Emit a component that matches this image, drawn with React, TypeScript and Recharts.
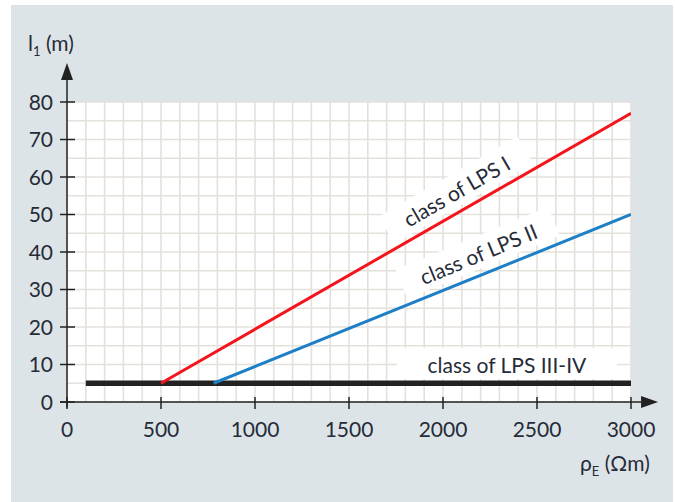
import { LineChart, Line, XAxis, YAxis, CartesianGrid, ReferenceLine, ReferenceDot } from 'recharts'

// earth resistivity rho_E (Ohm m) vs minimum length l1 (m)
const classIRho = [500, 3000]
const classIL1 = [5, 77]
const classIIRho = [780, 3000]
const classIIL1 = [5, 50]
const classIIIRho = [100, 3000]
const classIIIL1 = [5, 5]

const xTicks = [0, 500, 1000, 1500, 2000, 2500, 3000]
const yTicks = [0, 10, 20, 30, 40, 50, 60, 70, 80]

const labelNames = ['class of LPS I', 'class of LPS II', 'class of LPS III-IV']
const labelRho = [2075, 2190, 2340]
const labelL1 = [56, 39.2, 9.6]

const toRows = (rho: number[], l1: number[]) => rho.map((r, i) => ({ rho: r, l1: l1[i] }))

const classI = toRows(classIRho, classIL1)
const classII = toRows(classIIRho, classIIL1)
const classIII = toRows(classIIIRho, classIIIL1)

// minor grid every 100 Ohm m / 5 m
const gridX = Array.from({ length: 31 }, (_, i) => i * 100)
const gridY = Array.from({ length: 17 }, (_, i) => i * 5)

const FONT = 'Lato, sans-serif'
const TEXT = '#262b38'
const AXIS = '#222'
const FS = 21

const XTick = (props: any) => {
  const { x, y, payload } = props
  return (
    <g>
      <line x1={x} y1={y - 5} x2={x} y2={y + 7} stroke={AXIS} strokeWidth={1.5} />
      <text x={x} y={y + 35} textAnchor="middle" fontSize={FS} fontFamily={FONT} fill={TEXT}>
        {payload.value}
      </text>
    </g>
  )
}

const YTick = (props: any) => {
  const { x, y, payload } = props
  return (
    <g>
      <line x1={x - 7} y1={y} x2={x + 8} y2={y} stroke={AXIS} strokeWidth={1.5} />
      <text x={x - 14} y={y + 7.5} textAnchor="end" fontSize={FS} fontFamily={FONT} fill={TEXT}>
        {payload.value}
      </text>
    </g>
  )
}

const Arrow = (props: any) => {
  const { x1, y1, x2, y2 } = props
  const len = Math.hypot(x2 - x1, y2 - y1) || 1
  const ux = (x2 - x1) / len
  const uy = (y2 - y1) / len
  const bx = x2 - ux * 17
  const by = y2 - uy * 17
  const px = -uy * 6
  const py = ux * 6
  return (
    <g>
      <line x1={x1} y1={y1} x2={bx} y2={by} stroke={AXIS} strokeWidth={1.5} />
      <polygon points={`${x2},${y2} ${bx + px},${by + py} ${bx - px},${by - py}`} fill={AXIS} />
    </g>
  )
}

const makeLabel = (text: string, angle: number, w: number) => (props: any) => {
  const { cx, cy } = props
  return (
    <g transform={`rotate(${angle}, ${cx}, ${cy})`}>
      <rect x={cx - w / 2} y={cy - 18} width={w} height={31} fill="#fff" />
      <text x={cx} y={cy + 7} textAnchor="middle" fontSize={FS} fontFamily={FONT} fill={TEXT}>
        {text}
      </text>
    </g>
  )
}

const App = () => {
  return (
    <div style={{ position: 'absolute', left: 0, top: 0, width: 675, height: 502, background: '#fff' }}>
      <div style={{ position: 'absolute', left: 11, top: 5, width: 662, height: 497, background: '#dde4e7' }} />
      <div style={{ position: 'absolute', left: 0, top: 0 }}>
        <LineChart width={675} height={502} margin={{ top: 102, right: 44, bottom: 60, left: 27 }}>
          <CartesianGrid
            fill="#fff"
            fillOpacity={1}
            stroke="#e4e1dc"
            strokeWidth={1.6}
            horizontalValues={gridY}
            verticalValues={gridX}
          />
          <XAxis
            dataKey="rho"
            type="number"
            domain={[0, 3000]}
            ticks={xTicks}
            interval={0}
            height={40}
            tickSize={0}
            tickMargin={0}
            tickLine={false}
            axisLine={false}
            tick={<XTick />}
            allowDataOverflow
          />
          <YAxis
            type="number"
            domain={[0, 80]}
            ticks={yTicks}
            interval={0}
            width={40}
            tickSize={0}
            tickMargin={0}
            tickLine={false}
            axisLine={false}
            tick={<YTick />}
            allowDataOverflow
          />
          <ReferenceDot x={labelRho[0]} y={labelL1[0]} r={0} ifOverflow="visible" shape={makeLabel(labelNames[0], -30, 160)} />
          <ReferenceDot x={labelRho[1]} y={labelL1[1]} r={0} ifOverflow="visible" shape={makeLabel(labelNames[1], -22.5, 165)} />
          <ReferenceDot x={labelRho[2]} y={labelL1[2]} r={0} ifOverflow="visible" shape={makeLabel(labelNames[2], 0, 220)} />
          <Line data={classIII} dataKey="l1" stroke="#222" strokeWidth={5.5} dot={false} isAnimationActive={false} />
          <Line data={classII} dataKey="l1" stroke="#1d7fc6" strokeWidth={3} dot={false} isAnimationActive={false} />
          <Line data={classI} dataKey="l1" stroke="#f4141c" strokeWidth={3} dot={false} isAnimationActive={false} />
          <ReferenceLine segment={[{ x: -37, y: 0 }, { x: 3144, y: 0 }]} ifOverflow="visible" shape={<Arrow />} />
          <ReferenceLine segment={[{ x: 0, y: -1.4 }, { x: 0, y: 90.4 }]} ifOverflow="visible" shape={<Arrow />} />
        </LineChart>
      </div>
      <div style={{ position: 'absolute', left: 28, top: 30, fontFamily: FONT, fontSize: FS, color: TEXT, whiteSpace: 'nowrap' }}>
        l<sub style={{ fontSize: 13 }}>1</sub> (m)
      </div>
      <div style={{ position: 'absolute', left: 580, top: 450, fontFamily: FONT, fontSize: FS, color: TEXT, whiteSpace: 'nowrap' }}>
        ρ<sub style={{ fontSize: 13 }}>E</sub> (Ωm)
      </div>
    </div>
  )
}

export default App
